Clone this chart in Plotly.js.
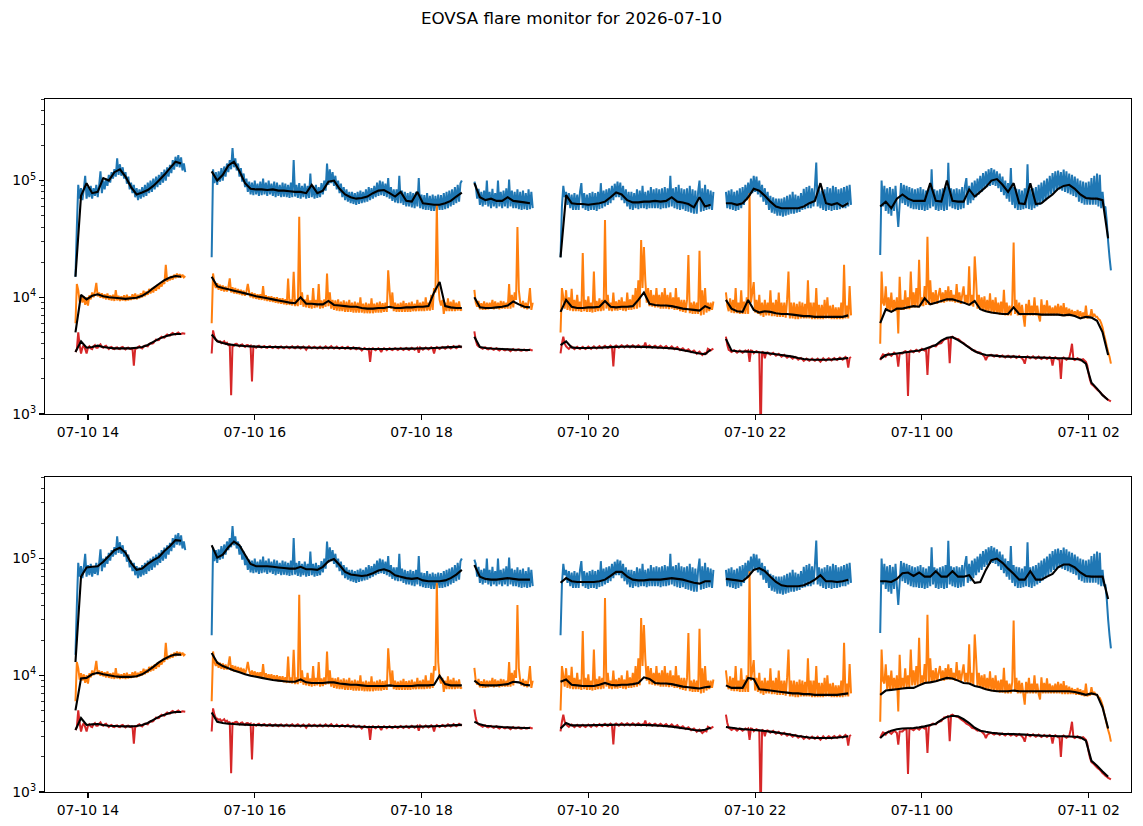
<!DOCTYPE html>
<html><head><meta charset="utf-8">
<script src="https://cdn.plot.ly/plotly-3.0.1.min.js"></script>
<style>html,body{margin:0;padding:0;background:#fff}#chart{width:1143px;height:826px}</style>
</head><body><div id="chart"></div>
<script>
// ---------------- data (counts in thousands) ----------------
const titleText = 'EOVSA flare monitor for 2026-07-10';
const baseDay = [2026, 6, 10];                              // 2026-07-10 (UTC)
const segStartMinutes = [831, 929, 1118, 1180, 1299, 1410]; // 13:51, 15:29, 18:38, 19:40, 21:39, 23:30
const blueStepMin = 1, orangeStepMin = 1, redStepMin = 1, smoothStepMin = 4;
const xRange = ['2026-07-10 13:29:05', '2026-07-11 02:30:27'];
const xTickFormat = '%m-%d %H';
const yTickVals = [1e3, 1e4, 1e5];
const yTickText = ['10<sup>3</sup>', '10<sup>4</sup>', '10<sup>5</sup>'];
const minorMantissas = [2, 3, 4, 5, 6, 7, 8, 9];
const yMin = 1e3, yMax = 5e5;

// raw light curves, one sub-array per observing segment (1-min samples)
const blueRaw = [
  [15,40,92,70,86,68,84,110,70,88, 72,90,70,86,74,92,72,90,120,78, 100,84,104,90,112,96,118,104,125,108,
   155,112,138,110,130,104,118,94,108,84, 96,78,92,72,86,68,84,70,88,72, 92,74,96,78,100,80,104,84,108,88,
   112,92,118,96,124,100,130,108,136,116, 150,124,160,132,165,130,158,122,140,118],
  [22,125,95,118,92,120,98,128,100,132, 108,140,118,150,125,190,130,155,122,140, 108,128,98,115,88,104,80,98,76,96,
   75,100,76,94,74,98,75,104,76,96, 74,100,76,94,74,98,72,96,74,92, 72,96,73,94,72,92,71,96,72,150,
   73,92,71,95,70,90,72,94,70,90, 71,115,72,90,70,92,71,88,72,95, 76,100,82,140,92,125,95,118,90,110,
   84,100,78,94,72,88,68,84,66,80, 64,80,63,78,62,80,63,82,64,80, 65,84,66,88,68,86,70,90,72,96,
   74,100,75,98,74,94,72,105,70,88, 67,84,65,84,64,110,64,82,62,80, 60,78,60,80,59,78,58,80,60,105,
   58,76,57,75,56,78,56,74,55,76, 55,74,55,76,56,75,56,78,57,80, 58,82,60,84,62,88,64,92,66,95, 100],
  [98,90,70,85,62,80,60,82,62,100, 60,80,58,85,60,78,58,100,60,80, 58,82,60,86,58,102,60,82,58,80,
   58,84,57,80,56,82,57,78,56,84, 57,80,58],
  [22,60,90,72,80,62,78,58,76,56, 78,56,76,56,80,95,58,78,56,76, 55,78,56,80,56,78,55,80,57,95,
   58,82,60,84,62,86,64,90,68,94, 72,98,72,96,68,90,64,84,60,80, 57,80,56,78,58,84,57,82,58,90,
   58,80,57,82,58,88,58,84,58,86, 58,84,57,86,58,88,58,86,59,110, 60,86,58,88,57,92,56,86,57,84,
   55,86,54,90,53,84,52,82,52,80, 100,54,86,55,92,56,84,57,82,56,80],
  [80,58,82,57,84,56,80,55,82,56, 86,58,88,62,92,68,96,74,104,78, 110,80,108,76,100,72,92,66,86,62,
   80,56,74,53,72,52,70,50,70,50, 70,49,72,50,74,51,76,52,80,52, 76,53,74,54,78,56,85,57,88,58,
   90,58,86,60,88,143,60,84,58,82, 56,84,55,88,56,86,55,90,56,88, 56,84,57,86,58,88,58,90,60,92,62],
  [23,100,60,90,55,86,52,88,50,85, 55,90,58,40,62,95,64,92,62,90, 60,88,58,86,57,84,57,86,56,88,
   56,84,55,82,56,86,58,125,60,84, 56,82,55,84,56,86,55,88,56,142, 60,86,58,84,57,86,56,84,57,88,
   58,90,105,62,90,64,96,68,100,72, 104,76,110,80,116,85,120,88,125,90, 128,92,124,90,120,86,115,80,108,75,
   100,70,95,66,128,62,88,58,85,56, 84,56,82,57,86,58,138,57,84,56, 86,58,88,60,92,62,96,65,100,68,
   104,72,110,76,116,80,120,82,122,84, 118,82,124,80,120,78,115,76,112,74, 108,72,104,66,100,64,98,62,96,62,
   98,62,105,62,110,62,115,60,112,58, 80,58,60,45,30,22,17]
];
const orangeRaw = [
  [6.0,13.0,11.5,9.2,10.4,9.0,10.2,8.6,10.0,8.5, 10.4,9.6,11.0,10.0,11.2,13.3,10.2,11.0,9.9,10.8, 9.8,10.6,9.6,10.8,9.5,10.4,9.4,10.5,9.3,11.5,
   9.4,10.3,9.3,10.2,9.4,10.4,9.3,10.5,9.4,10.2, 9.5,10.6,9.6,10.8,9.6,10.5,9.8,10.8,10.0,11.4, 10.2,11.2,10.5,11.8,10.8,12.0,11.0,12.4,11.4,12.8,
   11.8,13.0,12.4,13.8,13.0,19.0,13.6,14.6,14.0,15.2, 14.2,15.6,14.6,16.0,14.8,15.8,14.8,15.6,14.8,15.2],
  [6.0,16.0,13.0,12.0,13.2,11.6,12.8,11.4,12.6,11.2, 12.4,11.2,12.2,14.5,11.0,12.2,10.8,12.0,10.7,11.8, 10.6,11.6,10.4,11.4,10.3,11.2,13.0,11.0,10.0,11.0,
   9.8,10.8,9.7,10.6,9.6,10.6,9.5,12.5,9.4,10.4, 9.3,10.2,9.2,10.2,9.1,10.0,9.0,10.0,8.9,9.8, 8.8,9.8,8.7,9.6,8.6,14.5,8.6,9.6,8.5,16.5,
   8.4,9.6,8.4,49.0,8.6,11.0,8.3,9.6,8.2,10.5, 8.1,9.4,8.0,12.0,8.1,9.5,8.2,13.0,8.0,9.4, 8.1,9.6,8.3,16.0,8.4,11.0,8.0,9.5,7.8,9.4,
   7.7,9.6,7.6,9.2,7.6,9.4,7.5,9.2,7.5,9.5, 7.5,9.0,7.4,9.2,7.4,9.0,7.4,10.0,7.4,8.8, 7.3,9.0,7.3,8.8,7.3,9.8,7.3,8.8,7.4,9.0,
   7.4,9.2,7.4,8.9,7.5,9.0,7.5,17.0,11.5,8.0, 11.0,7.6,9.0,7.5,8.8,7.5,9.0,7.5,9.3,7.5, 8.9,7.5,9.0,7.5,9.2,7.6,8.8,7.6,9.5,7.6,
   9.0,7.6,9.2,7.6,10.0,7.7,9.0,7.7,10.5,7.8, 12.0,11.0,62.0,13.0,9.5,8.5,9.5,7.2,9.0,7.6, 9.8,7.6,9.2,7.6,9.5,7.6,9.0,7.7,9.2,7.7, 7.9],
  [11.6,9.0,8.3,9.3,7.9,8.9,7.8,9.2,7.8,9.0, 7.9,9.0,8.0,9.5,7.9,9.2,8.0,9.0,7.9,9.3, 8.0,9.2,8.0,9.0,8.0,13.0,8.0,10.5,8.2,11.0,
   9.5,40.0,11.5,9.0,8.2,9.3,8.0,9.0,7.9,9.2, 12.0,7.8,9.0],
  [5.0,12.0,10.0,8.0,11.5,7.8,10.0,7.7,11.8,7.6, 9.5,7.6,10.5,7.6,9.2,7.5,24.0,7.6,9.5,7.5, 10.2,7.5,9.0,7.4,16.6,7.5,9.3,7.6,9.8,7.6,
   9.5,7.7,46.0,8.0,10.5,7.7,9.0,7.6,11.0,7.7, 9.2,7.7,9.5,7.8,10.0,7.7,9.2,7.6,11.0,7.8, 9.6,7.8,10.5,7.9,12.0,8.0,14.0,8.2,31.0,12.0,
   27.0,14.0,9.0,12.0,8.4,11.5,8.3,10.5,8.2,12.0, 8.2,10.5,8.0,11.0,8.0,12.0,8.0,10.5,7.9,11.0, 8.0,10.0,7.8,12.0,7.8,10.0,7.6,9.5,7.5,9.5,
   7.4,9.5,23.0,7.3,9.0,7.2,9.2,7.2,9.0,7.2, 25.0,7.0,11.5,7.1,12.0,7.4,9.0,7.6,9.0,7.8,9.2],
  [11.0,8.5,7.6,9.8,7.4,9.5,7.3,12.0,7.3,9.0, 7.2,11.5,7.2,9.2,7.2,10.0,7.2,78.0,9.0,11.0, 13.5,7.4,9.5,7.2,10.5,7.0,9.0,6.8,9.5,7.0,
   9.0,7.0,11.5,6.9,9.0,6.9,9.5,6.8,11.0,6.8, 9.0,6.8,9.0,6.7,9.5,16.6,6.6,9.0,6.6,9.0, 6.5,8.8,6.5,9.2,6.6,9.0,6.6,8.8,6.6,14.0,
   6.6,9.0,6.5,9.0,6.5,12.0,6.5,8.6,6.5,8.6, 6.5,9.5,6.6,10.0,6.6,8.5,6.5,8.6,6.5,8.2, 6.5,8.2,6.5,9.0,6.5,19.0,6.6,8.5,6.6,12.5,7.0],
  [4.0,16.6,9.0,8.5,12.4,7.6,10.0,7.5,11.0,7.5, 9.5,7.6,10.0,4.9,15.0,7.8,9.5,7.8,11.5,7.9, 10.0,7.9,16.6,8.2,11.0,8.2,12.0,8.2,21.0,8.4,
   10.0,8.4,12.5,8.6,33.0,8.6,14.0,8.6,11.0,8.8, 11.5,8.8,10.5,12.0,9.0,11.0,9.0,11.5,9.2,12.4, 9.2,11.5,9.2,10.5,9.0,13.0,9.0,11.0,8.8,10.5,
   12.4,8.8,10.5,8.6,18.4,8.5,10.5,8.3,22.4,14.0, 8.0,10.5,7.8,10.0,7.6,10.2,7.5,9.5,7.4,10.8, 7.3,9.5,7.2,10.0,7.2,9.0,7.1,9.2,7.1,11.6,
   7.0,9.0,7.0,8.5,7.0,8.8,29.5,7.2,9.5,7.0, 9.0,7.0,8.6,6.9,5.6,8.8,7.0,9.5,7.0,8.5, 7.0,10.0,7.0,8.5,6.9,6.2,9.6,7.0,8.6,7.0,
   9.4,7.0,8.5,7.0,8.2,7.0,8.5,7.0,8.8,7.0, 8.5,6.9,8.9,6.9,8.2,6.9,8.0,6.9,7.8,6.9, 7.6,6.8,7.8,6.8,7.6,6.7,7.4,6.6,8.5,6.6,
   7.0,6.7,7.9,6.8,7.2,6.8,6.8,6.5,6.4,6.0, 5.5,4.8,4.3,3.8,3.4,3.1,2.7]
];
const redRaw = [
  [3.4,3.6,5.0,3.9,3.3,3.7,3.9,3.6,3.3,3.7, 3.8,3.65,3.6,3.8,3.9,3.7,3.7,3.85,3.95,3.75, 3.7,3.8,3.85,3.7,3.6,3.72,3.75,3.62,3.6,3.7,
   3.72,3.62,3.6,3.72,3.75,3.64,3.58,3.68,3.7,3.62, 3.6,3.68,2.6,3.66,3.65,3.74,3.8,3.7,3.65,3.78, 3.85,3.82,3.8,3.96,4.05,4.0,4.05,4.2,4.35,4.28,
   4.3,4.48,4.6,4.52,4.5,4.68,4.8,4.72,4.7,4.86, 4.95,4.85,4.8,4.92,5.0,4.88,4.85,4.92,4.9,4.88],
  [3.3,5.2,4.6,4.3,4.25,4.15,4.2,4.05,4.12,4.2, 4.0,4.08,3.9,4.0,1.45,3.95,3.85,3.98,4.0,3.88, 3.8,3.92,3.95,3.82,3.75,3.88,3.9,3.8,3.85,1.9,
   3.85,3.76,3.7,3.8,3.85,3.74,3.7,3.8,3.82,3.7, 3.68,3.78,3.82,3.72,3.67,3.76,3.8,3.7,3.66,3.76, 3.8,3.7,3.66,3.75,3.8,3.7,3.66,3.74,3.8,3.7,
   3.65,3.74,3.8,3.7,3.64,3.72,3.78,3.68,3.55,3.7, 3.8,3.72,3.65,3.72,3.78,3.7,3.63,3.7,3.78,3.68, 3.63,3.72,3.8,3.7,3.64,3.74,3.82,3.7,3.63,3.7,
   3.78,3.68,3.62,3.7,3.76,3.68,3.62,3.7,3.76,3.66, 3.6,3.68,3.74,3.64,3.58,3.64,3.7,3.6,3.5,3.6, 3.68,3.6,3.58,3.62,2.8,3.6,3.66,3.58,3.52,3.6,
   3.66,3.56,3.4,3.58,3.66,3.6,3.52,3.6,3.66,3.58, 3.53,3.6,3.67,3.6,3.53,3.6,3.68,3.6,3.54,3.62, 3.68,3.6,3.54,3.62,3.7,3.62,3.55,3.62,3.7,3.35,
   3.72,3.64,3.56,3.64,3.72,3.64,3.57,3.65,3.73,3.65, 3.3,3.66,3.75,3.68,3.6,3.68,3.76,3.7,3.62,3.7, 3.8,3.72,3.64,3.72,3.82,3.74,3.66,3.74,3.84,3.76, 3.7],
  [5.1,4.3,3.9,3.8,3.75,3.68,3.62,3.7,3.72,3.62, 3.58,3.65,3.68,3.6,3.55,3.62,3.66,3.56,3.5,3.58, 3.62,3.54,3.5,3.56,3.6,3.52,3.45,3.54,3.6,3.52,
   3.5,3.55,3.58,3.5,3.48,3.54,3.57,3.5,3.5,3.54, 3.56,3.52,3.52],
  [3.3,4.0,4.6,4.0,3.8,3.7,3.62,3.72,3.78,3.68, 3.6,3.7,3.76,3.66,3.6,3.7,3.76,3.66,3.6,3.7, 3.78,3.7,3.62,3.72,3.8,3.7,3.64,3.74,3.82,3.72,
   3.66,3.76,3.84,3.74,3.68,3.76,3.85,3.76,2.55,3.78, 3.86,3.78,3.7,3.8,3.88,3.8,3.72,3.8,3.88,3.8, 3.72,3.8,3.88,3.8,3.72,3.8,3.88,3.8,3.72,3.8,
   3.8,4.1,3.72,3.8,3.86,3.78,3.7,3.78,3.85,3.76, 3.68,3.76,3.84,3.75,3.66,3.74,3.82,3.72,3.64,3.72, 3.8,3.7,3.6,3.68,3.74,3.62,3.52,3.6,3.66,3.56,
   3.46,3.52,3.58,3.48,3.38,3.44,3.5,3.4,3.28,3.36, 3.42,3.3,3.2,3.28,3.34,3.3,3.62,3.56,3.5,3.58,3.62],
  [4.6,3.9,3.55,3.48,3.4,3.46,3.52,3.44,3.36,3.44, 3.5,3.42,3.35,3.42,3.5,3.44,3.5,2.8,3.5,3.48, 3.32,3.4,3.46,3.4,3.36,0.6,3.42,3.36,3.0,3.35,
   3.38,3.3,3.22,3.28,3.34,3.25,3.16,3.22,3.28,3.18, 3.1,3.16,3.22,3.12,3.04,3.1,3.14,3.05,2.98,3.04, 3.08,3.0,2.92,2.98,3.02,2.94,2.85,2.92,2.98,2.9,
   2.86,2.92,2.98,2.9,2.86,2.92,2.98,2.88,2.8,2.9, 3.0,2.92,2.86,2.94,3.0,2.94,2.88,2.96,3.02,2.95, 2.9,2.98,3.05,2.98,2.92,3.0,3.08,3.0,2.5,3.02,3.08],
  [2.9,3.1,3.25,3.2,3.1,3.22,3.3,3.22,3.15,3.25, 3.35,3.28,3.2,2.55,3.3,3.3,3.3,3.4,3.45,3.4, 1.43,3.42,3.5,3.44,3.38,3.46,3.55,3.48,3.42,3.52,
   3.62,3.55,3.5,3.58,2.16,3.66,3.7,3.8,3.85,3.82, 3.8,3.92,4.0,4.02,4.05,4.2,4.35,4.38,4.4,4.5, 2.72,4.55,4.6,4.52,4.45,4.42,4.4,4.3,4.2,4.12,
   4.05,3.95,3.85,3.8,3.75,3.65,3.55,3.52,3.5,3.42, 3.35,3.38,3.35,3.28,3.2,3.1,2.9,3.08,3.15,3.2, 3.22,3.15,3.1,3.16,3.2,3.14,3.08,3.14,3.18,3.1,
   3.05,3.12,3.16,3.1,3.04,3.1,3.15,3.08,3.02,3.08, 3.14,3.06,3.0,2.9,2.7,3.05,3.12,3.06,3.0,3.06, 3.12,3.04,2.98,3.04,3.1,3.02,2.96,3.02,3.08,3.02,
   2.96,3.02,3.08,3.0,2.6,3.0,3.06,3.0,2.94,3.0, 2.0,3.0,3.05,2.98,2.92,2.98,3.02,3.4,4.0,2.95, 2.9,2.95,3.0,2.94,2.88,2.92,2.95,2.88,2.8,2.6,
   2.2,1.95,1.8,1.76,1.72,1.67,1.62,1.58,1.55,1.5, 1.45,1.42,1.38,1.35,1.32,1.3,1.28]
];

// smoothed curves for the upper panel (4-min samples)
const blueSmoothTop = [
  [15,74,95,78,80,105,100,118,125,108,88,76,79,83,90,100,112,128,145,140],
  [120,100,112,135,145,120,95,85,84,84, 83,84,82,82,81,80,80,78,92,78, 82,98,100,85,76,72,70,71,73,78, 82,83,78,73,80,67,66,80,64,63, 62,62,64,67,73,79],
  [95,72,68,70,67,67,72,67,66,65,64],
  [22,75,64,63,63,62,63,64,66,72, 79,76,68,65,65,66,66,67,66,67, 72,66,65,63,59,72,60,62],
  [64,64,62,64,72,85,82,74,66,60, 58,58,58,58,60,64,67,95,64,62, 64,60,64],
  [60,66,58,70,76,70,67,67,67,95, 67,66,100,67,66,66,84,73,80,88, 100,103,92,80,95,64,63,95,63,64, 70,76,85,90,92,85,76,71,70,70, 68,32]
];
const orangeSmoothTop = [
  [5.0,10.5,9.6,10.3,10.6,10.2,10.0,9.9,9.8,9.7,9.8,9.9,10.3,11.0,12.0,13.0,14.0,14.8,15.2,15.0],
  [15.0,12.4,12.0,11.7,11.4,11.1,10.8,10.5,10.2,10.0, 9.8,9.6,9.4,9.2,9.0,8.9,10.0,8.8,8.8,8.7, 8.7,9.3,8.6,8.5,8.4,8.3,8.3,8.1,8.0,8.0, 8.1,8.1,8.3,8.1,8.1,8.2,8.2,8.3,8.3,8.4, 11.0,13.5,8.4,8.2,8.1,8.1],
  [10.0,8.2,8.1,8.1,8.2,8.3,8.5,9.2,8.7,8.3,8.2],
  [7.5,9.5,8.3,8.1,8.1,8.2,8.2,8.3,9.3,8.3, 8.2,8.3,8.3,8.4,9.5,11.0,8.8,8.6,8.5,8.5, 8.4,8.2,8.0,7.9,7.8,7.7,8.4,8.0],
  [9.5,8.0,7.6,7.5,9.5,7.8,7.4,7.6,7.5,7.3, 7.2,7.2,7.1,7.0,6.9,6.9,6.8,6.8,6.8,6.8, 6.8,6.8,7.0],
  [6.0,7.9,7.5,8.0,8.0,8.2,8.4,8.3,9.8,8.7, 9.0,9.3,9.6,9.6,9.3,9.0,8.6,9.3,7.9,7.6, 7.4,7.3,7.2,7.2,8.2,7.2,7.2,7.2,7.2,7.1, 7.1,7.1,7.1,7.0,7.1,6.9,6.6,6.8,6.7,6.3, 5.0,3.2]
];
const redSmoothTop = [
  [3.4,4.2,3.7,3.75,3.85,3.75,3.7,3.65,3.65,3.65,3.65,3.7,3.75,3.9,4.15,4.4,4.6,4.75,4.85,4.85],
  [4.8,4.2,4.05,3.95,3.9,3.85,3.82,3.8,3.78,3.76, 3.75,3.75,3.74,3.73,3.73,3.72,3.72,3.71,3.70,3.70, 3.70,3.69,3.69,3.68,3.68,3.67,3.67,3.62,3.60,3.60, 3.60,3.61,3.61,3.62,3.62,3.63,3.63,3.64,3.65,3.66, 3.68,3.70,3.72,3.74,3.76,3.78],
  [4.6,3.75,3.68,3.64,3.62,3.6,3.58,3.56,3.55,3.54,3.54],
  [3.9,4.2,3.72,3.68,3.68,3.68,3.69,3.7,3.72,3.74, 3.76,3.77,3.78,3.78,3.76,3.76,3.74,3.72,3.7,3.68, 3.65,3.6,3.52,3.45,3.36,3.3,3.25,3.55],
  [4.4,3.5,3.45,3.43,3.42,3.4,3.38,3.34,3.3,3.25, 3.2,3.15,3.1,3.02,2.96,2.93,2.92,2.92,2.92,2.93, 2.95,2.98,3.02],
  [2.95,3.2,3.25,3.3,3.35,3.4,3.45,3.5,3.6,3.75, 3.9,4.25,4.5,4.55,4.3,4.0,3.7,3.45,3.3,3.2, 3.18,3.15,3.12,3.1,3.1,3.08,3.08,3.06,3.05,3.04, 3.03,3.02,3.0,3.0,2.98,2.96,2.93,2.7,1.85,1.65, 1.45,1.32]
];

// smoothed curves for the lower panel (4-min samples)
const blueSmoothBottom = [
  [13,70,84,85,86,94,105,118,124,112,92,80,82,90,97,103,116,128,144,142],
  [130,102,108,125,140,130,108,90,86,86, 86,85,84,83,82,82,85,81,81,80, 85,95,99,88,77,73,72,71,72,75, 79,81,78,72,70,68,67,68,65,64, 64,64,65,68,73,80],
  [88,70,67,66,66,67,68,67,66,66,66],
  [62,68,64,63,63,63,63,64,66,71, 77,77,70,66,65,65,66,66,66,67, 68,67,66,64,62,61,64,64],
  [67,66,65,64,70,80,83,78,70,63, 59,58,58,58,59,62,66,72,64,64, 63,64,66],
  [64,64,63,67,75,76,71,76,70,70, 78,70,70,78,70,70,72,62,63,80, 97,100,92,82,74,66,66,78,66,66, 70,74,84,89,89,84,76,71,70,70, 70,45]
];
const orangeSmoothBottom = [
  [5.0,9.4,9.5,10.2,10.5,10.2,10.0,9.8,9.7,9.7,9.7,9.8,10.2,10.9,11.8,12.9,13.8,14.6,15.1,15.0],
  [15.5,12.8,12.0,11.5,11.0,10.6,10.2,9.9,9.7,9.5, 9.3,9.1,9.0,8.9,8.8,8.8,9.2,8.7,8.6,8.6, 8.6,8.7,8.7,8.5,8.4,8.3,8.3,8.2,8.1,8.1, 8.1,8.1,8.2,8.1,8.1,8.1,8.1,8.2,8.2,8.2, 8.3,9.9,8.4,8.2,8.2,8.2],
  [9.0,8.3,8.2,8.2,8.2,8.3,8.4,8.8,8.7,8.3,8.2],
  [8.8,9.2,8.3,8.2,8.1,8.1,8.1,8.3,8.6,8.3, 8.2,8.3,8.3,8.4,8.6,9.6,9.3,8.6,8.5,8.5, 8.4,8.2,8.0,7.9,7.8,7.7,7.9,8.0],
  [8.2,7.8,7.8,7.8,9.5,9.3,7.6,7.5,7.4,7.3, 7.2,7.1,7.0,7.0,6.9,6.9,6.8,6.8,6.8,6.8, 6.8,6.9,7.0],
  [6.8,7.4,7.5,7.6,7.7,7.8,7.8,8.2,8.6,8.7, 8.9,9.2,9.5,9.4,9.0,8.6,8.5,8.1,7.9,7.6, 7.4,7.3,7.3,7.3,7.4,7.3,7.3,7.3,7.3,7.3, 7.3,7.3,7.3,7.3,7.3,7.2,7.0,6.8,7.0,6.8, 5.3,3.5]
];
const redSmoothBottom = [
  [3.4,4.3,3.75,3.8,3.82,3.75,3.7,3.68,3.66,3.65,3.65,3.68,3.75,3.9,4.15,4.4,4.6,4.75,4.85,4.85],
  [4.8,4.0,3.9,3.85,3.82,3.8,3.78,3.76,3.75,3.74, 3.73,3.72,3.72,3.71,3.71,3.7,3.7,3.7,3.7,3.69, 3.69,3.69,3.68,3.68,3.68,3.66,3.64,3.62,3.6,3.6, 3.6,3.6,3.61,3.61,3.62,3.62,3.63,3.63,3.64,3.65, 3.66,3.68,3.7,3.72,3.74,3.76],
  [4.0,3.8,3.7,3.66,3.63,3.6,3.58,3.56,3.55,3.54,3.54],
  [3.5,3.9,3.72,3.72,3.73,3.73,3.74,3.75,3.76,3.76, 3.77,3.77,3.77,3.77,3.76,3.75,3.74,3.72,3.7,3.67, 3.63,3.58,3.52,3.46,3.4,3.36,3.42,3.56],
  [3.6,3.55,3.5,3.46,3.43,3.4,3.37,3.33,3.29,3.24, 3.19,3.14,3.08,3.02,2.97,2.93,2.91,2.9,2.9,2.91, 2.93,2.96,3.0],
  [2.9,3.2,3.35,3.45,3.5,3.52,3.54,3.58,3.65,3.75, 3.85,4.15,4.4,4.5,4.45,4.2,3.9,3.55,3.35,3.28, 3.22,3.18,3.15,3.14,3.13,3.12,3.1,3.08,3.06,3.04, 3.03,3.02,3.0,3.0,2.99,2.97,2.94,2.75,1.85,1.68, 1.5,1.35]
];

// ---------------- styles ----------------
const colors = {blue: '#1f77b4', orange: '#ff7f0e', red: '#d62728', smooth: '#000000'};
const fontFamily = 'DejaVu Sans, Liberation Sans, sans-serif';

// ---------------- build traces ----------------
const dayMs = Date.UTC(baseDay[0], baseDay[1], baseDay[2]);
function buildSeries(segs, stepMin, unit) {
  const x = [], y = [];
  segs.forEach((vals, s) => {
    if (s > 0) { x.push(null); y.push(null); }
    vals.forEach((v, i) => {
      x.push(dayMs + (segStartMinutes[s] + i * stepMin) * 60000);
      y.push(v * unit);
    });
  });
  return {x, y};
}
function trace(segs, stepMin, color, xa, ya, width) {
  const d = buildSeries(segs, stepMin, 1000);
  return {type: 'scatter', mode: 'lines', x: d.x, y: d.y, xaxis: xa, yaxis: ya,
          connectgaps: false, hoverinfo: 'skip',
          line: {color: color, width: width, simplify: false}};
}
const panels = [
  {xa: 'x', ya: 'y', smooth: [blueSmoothTop, orangeSmoothTop, redSmoothTop]},
  {xa: 'x2', ya: 'y2', smooth: [blueSmoothBottom, orangeSmoothBottom, redSmoothBottom]}
];
const traces = [];
panels.forEach(p => {
  traces.push(trace(blueRaw, blueStepMin, colors.blue, p.xa, p.ya, 2));
  traces.push(trace(orangeRaw, orangeStepMin, colors.orange, p.xa, p.ya, 2));
  traces.push(trace(redRaw, redStepMin, colors.red, p.xa, p.ya, 2));
  p.smooth.forEach(s => traces.push(trace(s, smoothStepMin, colors.smooth, p.xa, p.ya, 2.1)));
});

// ---------------- layout ----------------
const minorVals = [];
[1e3, 1e4, 1e5].forEach(d => minorMantissas.forEach(m => { if (m * d <= yMax) minorVals.push(m * d); }));
const tickFont = {family: fontFamily, size: 13.9, color: '#000'};
const axisBase = {showline: true, mirror: true, linecolor: '#000', linewidth: 1.1,
  ticks: 'outside', ticklen: 5, tickwidth: 1.1, tickcolor: '#000',
  showgrid: false, zeroline: false, tickfont: tickFont, fixedrange: true};
function xAxis(anchor) {
  return Object.assign({}, axisBase, {type: 'date', range: xRange, tickformat: xTickFormat,
    tickmode: 'linear', tick0: '2026-07-10 00:00', dtick: 2 * 3600 * 1000, anchor: anchor, domain: [0, 1]});
}
function yAxis(anchor, domain) {
  return Object.assign({}, axisBase, {type: 'log', range: [Math.log10(yMin), Math.log10(yMax)],
    tickmode: 'array', tickvals: yTickVals, ticktext: yTickText, anchor: anchor, domain: domain,
    minor: {tickmode: 'array', tickvals: minorVals, ticks: 'outside', ticklen: 2.8, tickwidth: 0.8, tickcolor: '#000', showgrid: false}});
}
const plotH = 826 - 99 - 34;
const layout = {
  width: 1143, height: 826,
  margin: {l: 45, r: 12, t: 99, b: 34, pad: 0},
  paper_bgcolor: '#fff', plot_bgcolor: '#fff',
  showlegend: false,
  font: {family: fontFamily, color: '#000'},
  title: {text: titleText, font: {family: fontFamily, size: 16.7, color: '#000'},
          x: 0.5, xref: 'container', xanchor: 'center', y: 1 - 18 / 826, yref: 'container', yanchor: 'middle'},
  xaxis: xAxis('y'),
  yaxis: yAxis('x', [(792 - 414) / plotH, 1]),
  xaxis2: xAxis('y2'),
  yaxis2: yAxis('x2', [0, (792 - 477) / plotH])
};
Plotly.newPlot('chart', traces, layout, {displayModeBar: false, staticPlot: true});
</script>
</body></html>
